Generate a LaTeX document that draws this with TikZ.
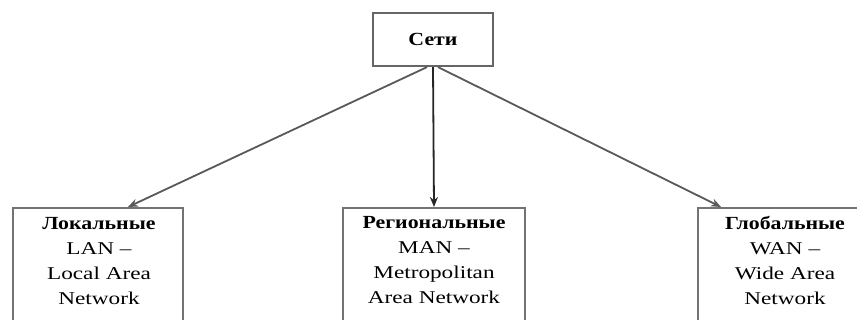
\documentclass[tikz,border=0pt]{standalone}
\usepackage{fontspec}
\setmainfont[FakeStretch=1.29]{Liberation Serif}
\newfontfamily\headfont[FakeStretch=1.18]{Liberation Serif}
\usetikzlibrary{arrows.meta}
\newcommand{\hd}[1]{{\headfont\bfseries\fontsize{18.5}{25.3}\selectfont #1}}
\tikzset{
  x=1pt,y=1pt,
  box/.style={draw=black!55, line width=2.2pt, fill=white, minimum width=#1, minimum height=150pt, anchor=north, inner sep=0pt},
  topbox/.style={draw=black!60, line width=2.2pt, fill=white, minimum width=120pt, minimum height=53pt, inner sep=0pt, font=\headfont\bfseries\fontsize{18.5}{22}\selectfont},
  txt/.style={align=center, inner sep=0pt, anchor=base, font=\fontsize{18}{25.3}\selectfont},
  conn/.style={draw=black!65, line width=1.8pt, -{Stealth[length=10pt,width=8pt]}},
}
\begin{document}
\begin{tikzpicture}
\clip (0,0) rectangle (857,-320);
\fill[white] (0,0) rectangle (857,-320);
\node[topbox] (seti) at (433,-39.5) {Сети};
\node[box=170pt] (lan) at (98,-207) {};
\node[box=182pt] (man) at (434,-207) {};
\node[box=174pt] (wan) at (785,-207) {};
\node[txt] (lantxt) at (99,-305) {\hd{Локальные}\\LAN --\\Local Area\\Network};
\node[txt] (mantxt) at (434,-304) {\hd{Региональные}\\MAN --\\Metropolitan\\Area Network};
\node[txt] (wantxt) at (785,-305) {\hd{Глобальные}\\WAN --\\Wide Area\\Network};
\draw[conn] ([xshift=-6pt]seti.south) -- ([xshift=30pt]lan.north);
\draw[conn, draw=black!85] (seti.south) -- (man.north);
\draw[conn] ([xshift=5pt]seti.south) -- ([xshift=-64pt]wan.north);
\end{tikzpicture}
\end{document}
